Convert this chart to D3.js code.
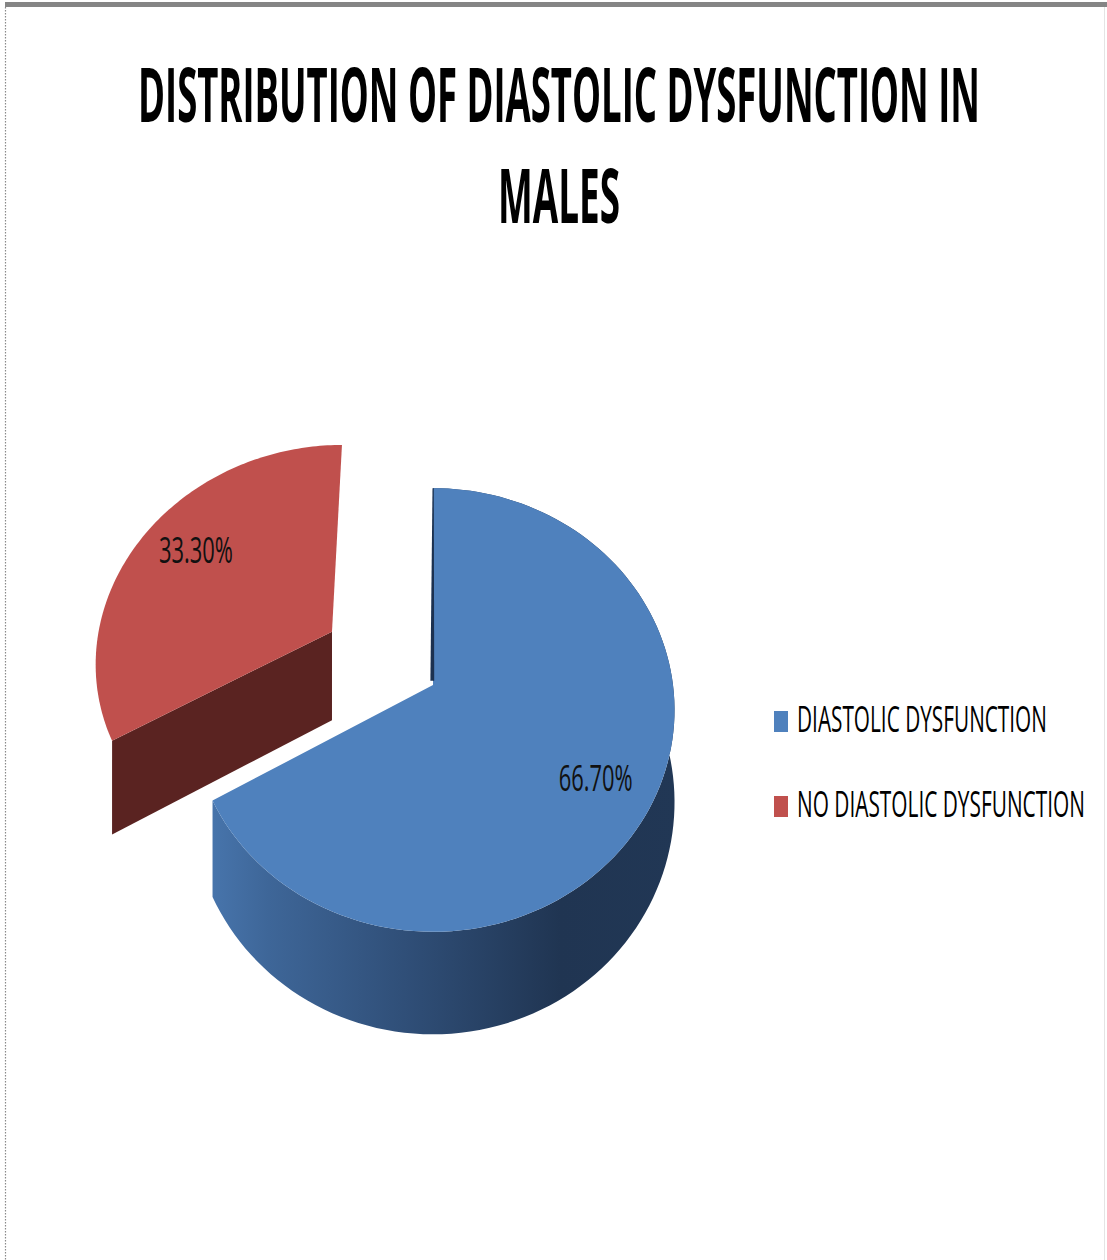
<!DOCTYPE html>
<html>
<head>
<meta charset="utf-8">
<script src="https://cdn.jsdelivr.net/npm/d3@7"></script>
<style>
  html, body { margin: 0; padding: 0; background: #ffffff; }
  svg { display: block; }
</style>
</head>
<body>
<script>
// ---- chart data ----
const categories  = ["DIASTOLIC DYSFUNCTION", "NO DIASTOLIC DYSFUNCTION"];
const shares      = [66.7, 33.3];
const valueLabels = ["66.70%", "33.30%"];
const explodeBy   = [0, 0.5];            // fraction of radius each slice is pulled out
const titleLines  = ["DISTRIBUTION OF DIASTOLIC DYSFUNCTION IN", "MALES"];

// ---- page ----
const W = 1107, H = 1260;
const svg = d3.select("body").append("svg").attr("width", W).attr("height", H);

// frame around the chart area
svg.append("rect").attr("x", 5).attr("y", 2).attr("width", W - 5).attr("height", 5).attr("fill", "#858585");
svg.append("line").attr("x1", 5.5).attr("x2", 5.5).attr("y1", 7).attr("y2", H)
   .attr("stroke", "#8a8a8a").attr("stroke-width", 1.2).attr("stroke-dasharray", "1.5,1.5");
svg.append("line").attr("x1", W - 2.5).attr("x2", W - 2.5).attr("y1", 7).attr("y2", H)
   .attr("stroke", "#e4e4e4").attr("stroke-width", 1);

// text squeezed horizontally to a given width (condensed look)
function fitText(parent, str, x, y, width, anchor, attrs) {
  const t = parent.append("text").attr("x", 0).attr("y", 0).attr("text-anchor", anchor);
  Object.entries(attrs).forEach(([k, v]) => t.attr(k, v));
  t.text(str);
  const natural = t.node().getComputedTextLength();
  t.attr("transform", `translate(${x},${y}) scale(${width / natural},1)`);
  return t;
}

const font = "'Open Sans', 'DejaVu Sans', sans-serif";

// ---- title ----
const titleAttrs = { "font-family": font, "font-weight": 700, "font-size": 75, fill: "#000" };
fitText(svg, titleLines[0], 559, 122, 842, "middle", titleAttrs);
fitText(svg, titleLines[1], 559, 223, 122, "middle", titleAttrs);

// ---- 3D pie projection ----
// plane coords: u to the right, v away from the viewer (radius = 1), z = 0 top .. 1 bottom
const P = { cx: 433, cy: 685, A: 219, B: 240, k: 0.1126, depth: 91 };
function proj(u, v, z) {
  const w = 1 + P.k * v;
  return [P.cx + (P.B * u) / w, P.cy + (-P.A * v + P.depth * z) / w];
}

const arcs = d3.pie().sort(null).value(d => d)(shares);
const line = d3.line();

function sliceGeom(a, i) {
  const mid = (a.startAngle + a.endAngle) / 2;
  const du = explodeBy[i] * Math.sin(mid), dv = explodeBy[i] * Math.cos(mid);
  const arcPts = (t0, t1, z) => d3.range(0, 121).map(j => {
    const t = t0 + (t1 - t0) * j / 120;
    return proj(du + Math.sin(t), dv + Math.cos(t), z);
  });
  const radial = (t) => [
    proj(du, dv, 0),
    proj(du + Math.sin(t), dv + Math.cos(t), 0),
    proj(du + Math.sin(t), dv + Math.cos(t), 1),
    proj(du, dv, 1)
  ];
  return {
    du, dv, mid,
    top: [proj(du, dv, 0), ...arcPts(a.startAngle, a.endAngle, 0)],
    wall: [...arcPts(a.startAngle, a.endAngle, 0), ...arcPts(a.endAngle, a.startAngle, 1)],
    startFace: radial(a.startAngle)
  };
}

const topColors  = ["#4f81bd", "#c0504d"];
const faceColors = ["#213a5c", "#5a2321"];

// side shading of the large slice
const defs = svg.append("defs");
const grad = defs.append("linearGradient").attr("id", "wallBlue")
  .attr("gradientUnits", "userSpaceOnUse").attr("x1", 213).attr("x2", 676).attr("y1", 0).attr("y2", 0);
[[0, "#4774ab"], [0.12, "#3e6698"], [0.45, "#2e4c74"], [0.75, "#203552"], [1, "#213755"]]
  .forEach(([o, c]) => grad.append("stop").attr("offset", o).attr("stop-color", c));

const pieG = svg.append("g");
const geoms = arcs.map((a, i) => sliceGeom(a, i));

// exploded slice: its cut face toward the main slice, then its top
pieG.append("path").attr("d", line(geoms[1].startFace) + "Z").attr("fill", faceColors[1]);
pieG.append("path").attr("d", line(geoms[1].top) + "Z").attr("fill", topColors[1]);

// main slice: curved side, then top
pieG.append("path").attr("d", line(geoms[0].wall) + "Z").attr("fill", "url(#wallBlue)");
pieG.append("path").attr("d", line(geoms[0].top) + "Z").attr("fill", topColors[0]);

// narrow shadowed strip along the main slice's 12 o'clock cut
{
  const g = geoms[0];
  const a = proj(g.du, g.dv + 1, 0), b = proj(g.du, g.dv + 0.02, 0);
  pieG.append("path")
    .attr("d", line([[a[0] - 0.5, a[1]], [a[0] + 0.8, a[1]], [b[0] + 1.2, b[1]], [b[0] - 2.6, b[1]]]) + "Z")
    .attr("fill", "#1c3150");
}

// ---- value labels ----
const labelRadius = [0.75, 0.72];
const labelNudge  = [20, 3];
const labelAttrs = { "font-family": font, "font-size": 37, fill: "#111" };
arcs.forEach((a, i) => {
  const g = geoms[i];
  const r = labelRadius[i];
  const [x, y] = proj(g.du + r * Math.sin(g.mid), g.dv + r * Math.cos(g.mid), 0);
  fitText(svg, valueLabels[i], x, y + labelNudge[i], 74, "middle", labelAttrs);
});

// ---- legend ----
const legendWidths = [250, 288];
const legend = svg.append("g").attr("transform", "translate(774, 732)");
const legendAttrs = { "font-family": font, "font-size": 37, fill: "#000" };
categories.forEach((c, i) => {
  const row = legend.append("g").attr("transform", `translate(0, ${i * 85})`);
  row.append("rect").attr("x", 0).attr("y", -21).attr("width", 14).attr("height", 21).attr("fill", topColors[i]);
  fitText(row, c, 23, 0, legendWidths[i], "start", legendAttrs);
});
</script>
</body>
</html>
